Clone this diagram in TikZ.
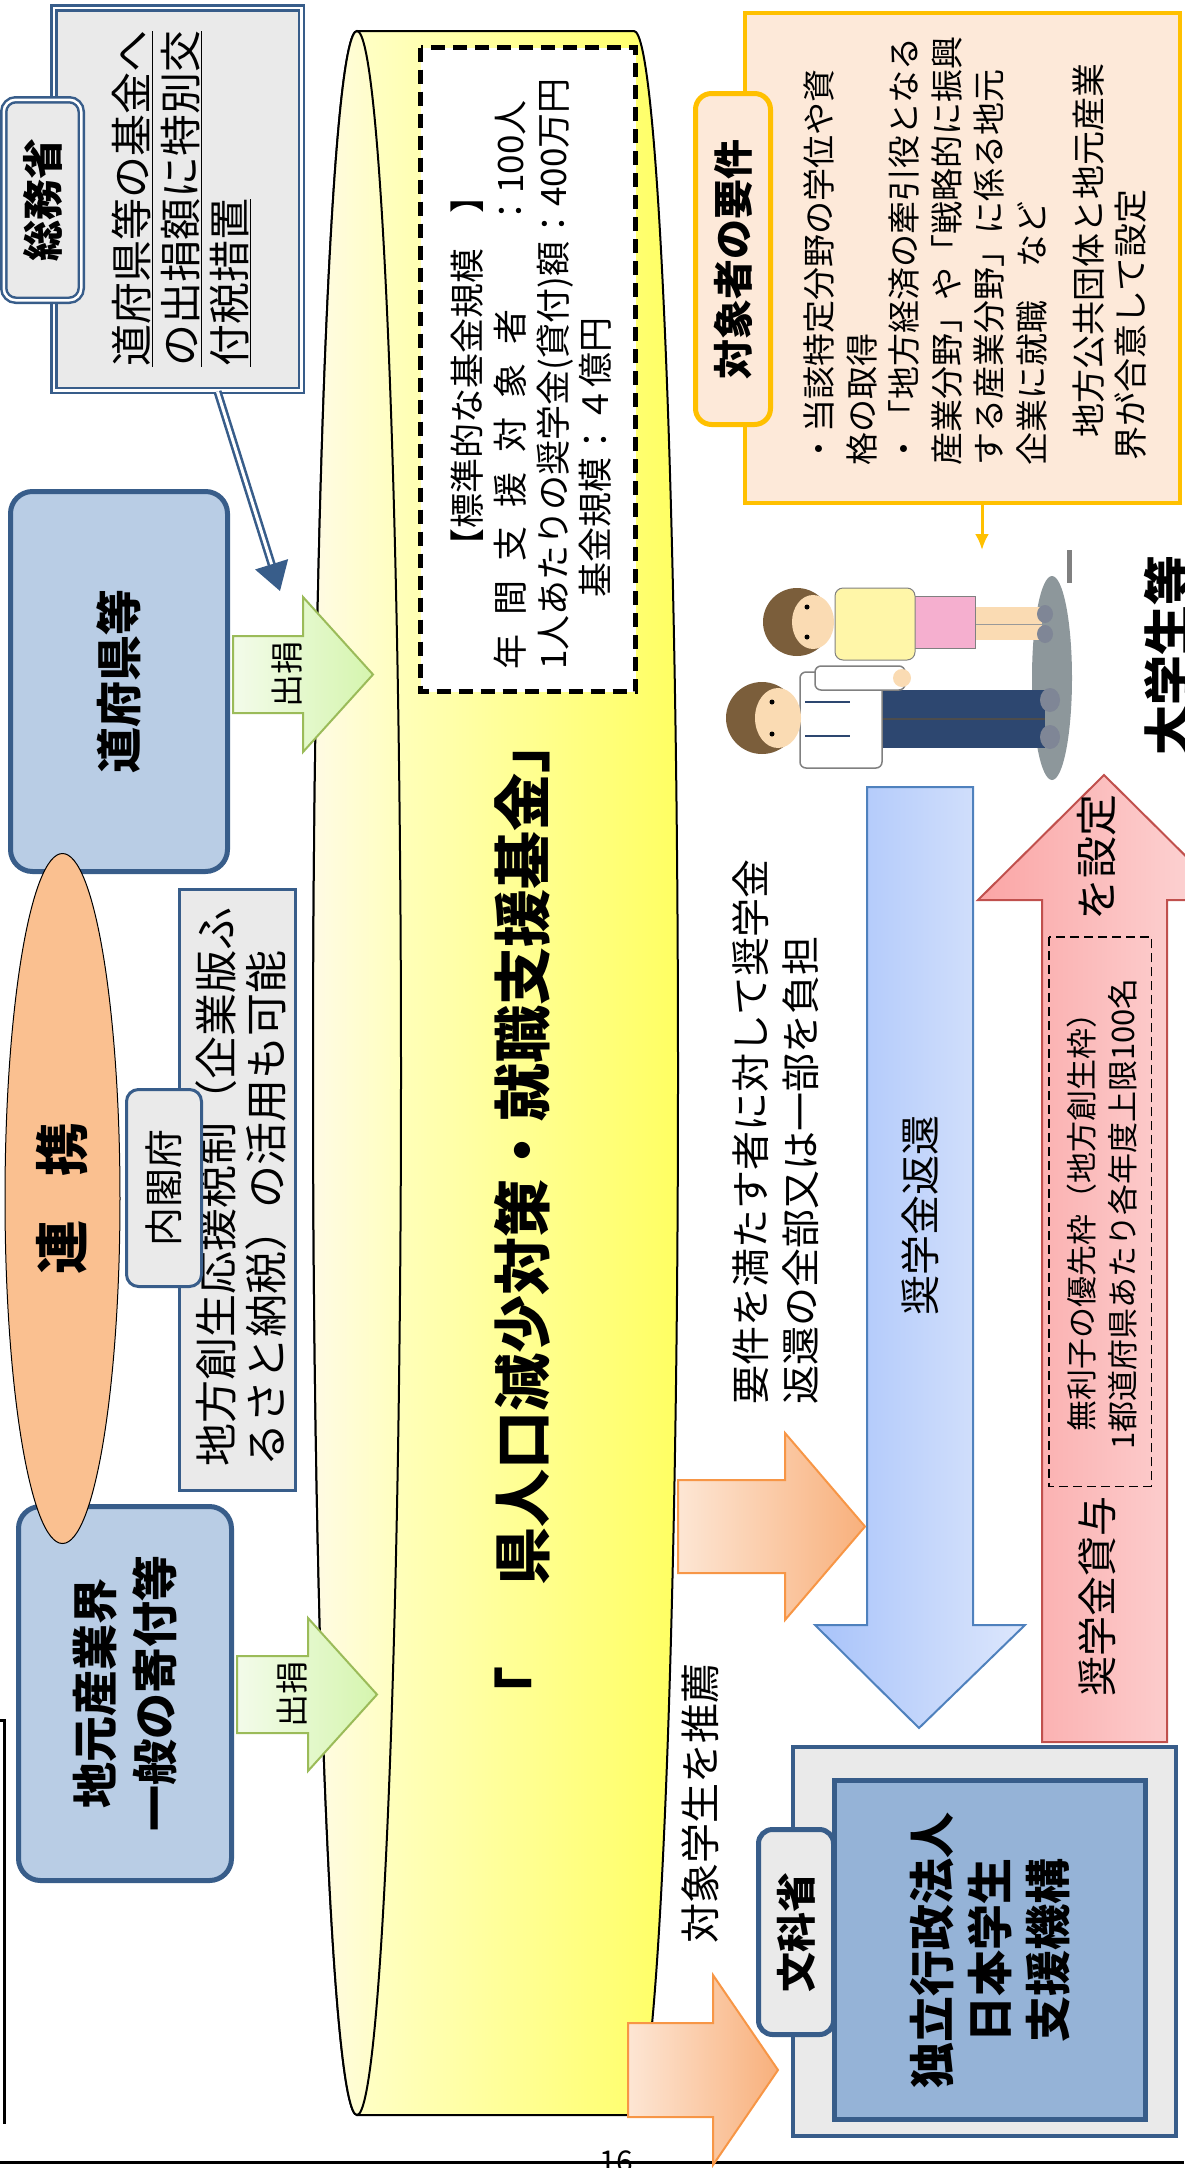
\documentclass[tikz,border=0pt]{standalone}
\usepackage{fontspec}
\setmainfont{Noto Sans CJK JP}
\usetikzlibrary{arrows.meta,shapes.geometric}

\definecolor{navyline}{HTML}{385D8A}
\definecolor{govblue}{HTML}{B9CDE5}
\definecolor{jassofill}{HTML}{95B3D7}
\definecolor{stonegray}{HTML}{EAEAEA}
\definecolor{linkfill}{HTML}{FAC090}
\definecolor{reqline}{HTML}{FFC000}
\definecolor{reqfill}{HTML}{FDE9D9}
\definecolor{fundpale}{HTML}{FFFFD4}
\definecolor{fundyellow}{HTML}{FFFF62}
\definecolor{cappale}{HTML}{FFFBE4}
\definecolor{capyellow}{HTML}{FFFFBE}
\definecolor{donateline}{HTML}{9BBB59}
\definecolor{donatepale}{HTML}{F3FBEA}
\definecolor{donategreen}{HTML}{D5F5AE}
\definecolor{recline}{HTML}{F79646}
\definecolor{recpale}{HTML}{FDE6D4}
\definecolor{recorange}{HTML}{F8B07C}
\definecolor{repayline}{HTML}{4F81BD}
\definecolor{repaydeep}{HTML}{A8C3FA}
\definecolor{repaypale}{HTML}{DDE7FC}
\definecolor{loanline}{HTML}{C0504D}
\definecolor{loandeep}{HTML}{FBA5A5}
\definecolor{loanpale}{HTML}{FCD9D9}
\definecolor{hair}{HTML}{7B5E3B}
\definecolor{skin}{HTML}{FADBB3}
\definecolor{trousers}{HTML}{2D4770}
\definecolor{blouse}{HTML}{FFF6A8}
\definecolor{skirtpink}{HTML}{F5AFCF}
\definecolor{shoegray}{HTML}{7F8696}
\definecolor{shadowgray}{HTML}{8D979B}

\newcommand{\ptsize}[2]{\fontsize{#1}{#2}\selectfont}

\tikzset{
  imgsize/.style 2 args={minimum height=#1, minimum width=#2},
  vtext/.style={rotate=90, inner sep=0pt},
  govbox/.style={rotate=90, draw=navyline, line width=5pt, fill=govblue, rounded corners=22pt, align=center, font=\ptsize{46}{60}\bfseries},
  stonebox/.style={rotate=90, draw=navyline, line width=3pt, fill=stonegray},
  stonedbl/.style={rotate=90, draw=navyline, line width=2.5pt, double=white, double distance=2.5pt, fill=stonegray},
  linkoval/.style={rotate=90, ellipse, draw=black, line width=1pt, fill=linkfill, inner sep=0pt, font=\ptsize{54}{54}\bfseries},
  donate/.style={draw=donateline, line width=2pt, left color=donatepale, right color=donategreen},
  recommendarr/.style={draw=recline, line width=2pt, left color=recpale, right color=recorange},
  grantarrow/.style={draw=navyline, line width=2.6pt, double=white, double distance=3pt, -{Triangle[length=28pt,width=34pt]}},
}

\begin{document}
\begin{tikzpicture}[x=1pt, y=-1pt]
  \useasboundingbox (0,0) rectangle (1184,2168);

  \draw[line width=3pt] (0,2162) -- (1184,2162);
  \node[font=\ptsize{30}{30}, anchor=north, inner sep=0pt] (pageno) at (616,2150) {16};
  \draw[line width=3pt] (0,1720) -- (4,1720) -- (4,2124);

  \node[stonedbl, imgsize={247.5}{382.5}] (somubox) at (177.5,199) {};
  \node[stonedbl, rounded corners=12pt, imgsize={77.5}{200.5}, font=\ptsize{41}{41}\bfseries] (somutab) at (42.5,200) {総務省};
  \node[vtext, anchor=north west, align=left, font=\ptsize{42}{49}] (somutext) at (112,367) {\underline{道府県等の基金へ}\\\underline{の出捐額に特別交}\\\underline{付税措置}};

  \node[govbox, imgsize={217}{380}] (prefs) at (119,681.5) {道府県等};
  \node[govbox, imgsize={213}{374}] (localind) at (125,1693.5) {地元産業界\\一般の寄付等};

  \node[stonebox, imgsize={116}{601}] (taxbox) at (237.5,1190) {};
  \node[vtext, anchor=north west, align=left, font=\ptsize{43}{50}] (taxtext) at (195.5,1467) {地方創生応援税制（企業版ふ\\るさと納税）の活用も可能};
  \node[stonebox, rounded corners=12pt, imgsize={75}{197}, font=\ptsize{39}{39}] (cabtab) at (164,1188) {内閣府};

  \node[linkoval, imgsize={115}{690}] (link) at (62.5,1198.5) {連\hspace{0.8em}携};

  \path[draw=black, line width=2pt, left color=fundpale, right color=fundyellow]
    (357,31) -- (634,31) arc[start angle=-90, end angle=90, x radius=44, y radius=1042]
    -- (357,2115) arc[start angle=90, end angle=270, x radius=44, y radius=1042] -- cycle;
  \path[draw=black, line width=2pt, left color=cappale, right color=capyellow]
    (357,1073) ellipse[x radius=44, y radius=1042];

  \node[rotate=90, draw=black, line width=5pt, dash pattern=on 14pt off 8pt, fill=white, imgsize={215}{644}] (scalebox) at (528,369.5) {};
  \node[vtext, font=\ptsize{35}{35}] (scalehead) at (467,371) {【標準的な基金規模\hspace{1em}】};
  \node[vtext, anchor=west, font=\ptsize{35}{35}] (scalecount) at (510,670) {年\hspace{.55em}間\hspace{.55em}支\hspace{.55em}援\hspace{.55em}対\hspace{.55em}象\hspace{.55em}者\hspace{2.3em}：100人};
  \node[vtext, anchor=west, font=\ptsize{35}{35}] (scaleloan) at (555,670) {1人あたりの奨学金(貸付)額：400万円};
  \node[vtext, anchor=west, font=\ptsize{35}{35}] (scaletotal) at (595,598) {基金規模：４億円};

  \node[vtext, anchor=west, font=\ptsize{58}{58}\bfseries] (fundname) at (522,1725) {「\hspace{1.4em}県人口減少対策・就職支援基金」};

  \path[donate] (233,636) -- (303,636) -- (303,597) -- (373,674.5) -- (303,752) -- (303,713) -- (233,713) -- cycle;
  \node[vtext, font=\ptsize{33}{33}] (donate1) at (287,674.5) {出捐};
  \path[donate] (237,1656) -- (308,1656) -- (308,1618) -- (377,1694.5) -- (308,1771) -- (308,1733) -- (237,1733) -- cycle;
  \node[vtext, font=\ptsize{33}{33}] (donate2) at (292,1694.5) {出捐};

  \coordinate (grantend) at (280,591);
  \draw[grantarrow] ([xshift=40pt]somubox.west) -- (grantend);

  \node[rotate=90, draw=reqline, line width=4pt, fill=reqfill, imgsize={435}{490}] (reqbox) at (962.5,258) {};
  \node[rotate=90, draw=reqline, line width=5pt, fill=reqfill, rounded corners=16pt, imgsize={75}{331}, font=\ptsize{40}{40}\bfseries] (reqtab) at (733,259) {対象者の要件};
  \node[vtext, anchor=north west, align=left, font=\ptsize{33}{42.6}] (reqtext) at (803.5,466) {・当該特定分野の学位や資\\格の取得\\・「地方経済の牽引役となる\\産業分野」や「戦略的に振興\\する産業分野」に係る地元\\企業に就職　など};
  \node[vtext, anchor=north west, align=left, font=\ptsize{34}{42}] (reqnote) at (1073,461) {\hspace{0.7em}地方公共団体と地元産業\\界が合意して設定};
  \coordinate (studtop) at (982,550);
  \draw[reqline, line width=3pt, -{Latex[length=16pt,width=14pt]}] ([xshift=19.5pt]reqbox.west) -- (studtop);

  \fill[shadowgray] (1052,678) ellipse[x radius=20, y radius=102];
  \draw[gray, line width=5pt] (1069,550) -- (1069,583);
  \fill[trousers] (878,690) rectangle (1045,748);
  \draw[black!70, line width=2pt] (880,719) -- (1045,719);
  \filldraw[fill=white, draw=gray, line width=1.5pt, rounded corners=6pt] (800,672) rectangle (882,768);
  \filldraw[fill=white, draw=gray, line width=1.5pt, rounded corners=6pt] (815,666) rectangle (905,690);
  \fill[skin] (902,678) circle[radius=9];
  \draw[trousers, line width=2.5pt] (805,702) -- (850,702) (805,736) -- (850,736);
  \fill[shoegray] (1050,700) ellipse[x radius=10, y radius=12];
  \fill[shoegray] (1050,737) ellipse[x radius=10, y radius=12];
  \fill[hair] (762,718) circle[radius=36];
  \fill[skin] (778,718) ellipse[x radius=23, y radius=30];
  \fill[black] (772,702) circle[radius=2.5] (772,734) circle[radius=2.5];
  \fill[skin] (972,607) rectangle (1042,640);
  \draw[black!40] (972,624) -- (1042,624);
  \filldraw[fill=skirtpink, draw=gray, line width=1pt] (898,596) rectangle (975,648);
  \filldraw[fill=blouse, draw=gray, line width=1pt, rounded corners=8pt] (835,588) rectangle (915,660);
  \fill[shoegray] (1045,614) ellipse[x radius=8, y radius=9];
  \fill[shoegray] (1045,634) ellipse[x radius=8, y radius=9];
  \fill[hair] (797,622) circle[radius=34];
  \fill[skin] (813,622) ellipse[x radius=21, y radius=27];
  \fill[black] (807,607) circle[radius=2.5] (807,637) circle[radius=2.5];
  \node[vtext, font=\ptsize{50}{50}\bfseries] (students) at (1168,655) {大学生等};

  \path[draw=repayline, line width=2pt, left color=repaydeep, right color=repaypale]
    (867,787) -- (973,787) -- (973,1625) -- (1025,1625) -- (919,1728) -- (815,1625) -- (867,1625) -- cycle;
  \node[vtext, font=\ptsize{40}{40}] (repaylabel) at (920,1215) {奨学金返還};

  \path[draw=loanline, line width=2pt, left color=loandeep, right color=loanpale]
    (1042,1742) -- (1042,900) -- (978,900) -- (1104,775) -- (1230,900) -- (1167,900) -- (1167,1742) -- cycle;
  \node[vtext, anchor=west, font=\ptsize{42}{42}] (quotaset) at (1097,921) {を設定};
  \node[rotate=90, draw=black, line width=1.5pt, dash pattern=on 9pt off 5pt, imgsize={102.5}{549.5}] (quotabox) at (1100,1211.5) {};
  \node[vtext, align=center, font=\ptsize{31}{41}] (quotatext) at (1102,1214) {無利子の優先枠（地方創生枠）\\1都道府県あたり各年度上限100名};
  \node[vtext, font=\ptsize{40}{40}] (loanlabel) at (1097,1596) {奨学金貸与};

  \node[vtext, anchor=north west, align=left, font=\ptsize{39}{50}] (burden) at (732.5,1405) {要件を満たす者に対して奨学金\\返還の全部又は一部を負担};
  \path[recommendarr] (678,1480) -- (785,1480) -- (785,1433) -- (865,1526.5) -- (785,1620) -- (785,1573) -- (678,1573) -- cycle;
  \node[vtext, font=\ptsize{40}{40}] (recommend) at (700,1803) {対象学生を推薦};
  \path[recommendarr] (628,2023) -- (713,2023) -- (713,1975) -- (778,2070) -- (713,2165) -- (713,2117) -- (628,2117) -- cycle;

  \node[stonebox, line width=4pt, imgsize={383}{389}] (jassoframe) at (984.5,1941.5) {};
  \node[govbox, fill=jassofill, rounded corners=0pt, imgsize={311}{339}, font=\ptsize{46}{58}\bfseries] (jasso) at (990,1950) {独立行政法人\\日本学生\\支援機構};
  \node[stonebox, line width=5pt, rounded corners=14pt, imgsize={75}{205}, font=\ptsize{40}{40}\bfseries] (mextab) at (796,1932) {文科省};
\end{tikzpicture}
\end{document}
